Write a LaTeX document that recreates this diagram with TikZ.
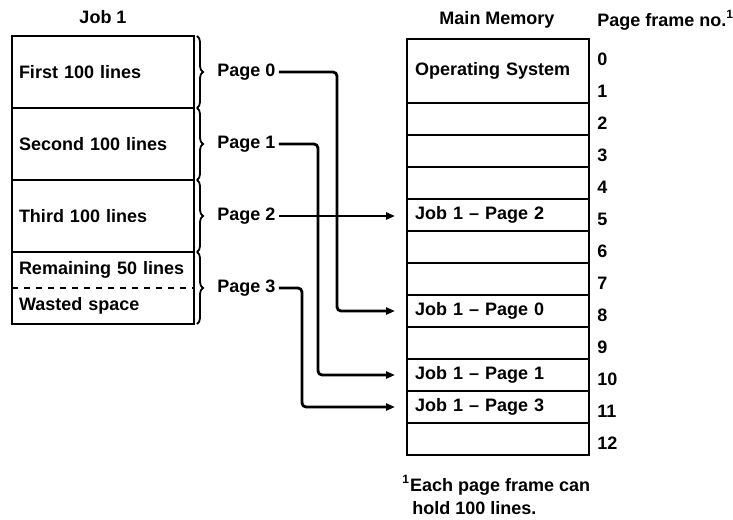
\documentclass[tikz,border=0pt]{standalone}
\usepackage{fontspec}
\setmainfont{Liberation Sans}
\usetikzlibrary{positioning,arrows.meta,decorations.pathreplacing}

\tikzset{
  jobpart/.style={draw,line width=0.9pt,outer sep=0pt,anchor=north west,text width=84pt,
    inner xsep=3.5pt,minimum height=36pt,align=left},
  frame/.style={draw,line width=0.9pt,outer sep=0pt,anchor=north west,text width=83pt,
    inner xsep=4pt,minimum height=16pt,align=left},
  brace/.style={decorate,decoration={brace,amplitude=3pt,raise=1.5pt},line width=0.9pt},
  pagelbl/.style={inner sep=1.5pt},
  num/.style={anchor=west,inner sep=0pt},
  link/.style={line width=1.4pt,-{Triangle[length=4.5pt,width=3.5pt]},
    shorten >=6pt,rounded corners=2pt}
}

\begin{document}
\begin{tikzpicture}[x=0.5pt,y=-0.5pt,font=\fontsize{9}{11}\selectfont\bfseries]
\useasboundingbox (0,0) rectangle (733,519);

% job 1
\node (jobtitle) at (103,17) {Job 1};
\node[jobpart] (j0) at (12,36) {First 100 lines};
\node[jobpart,below=0pt of j0] (j1) {Second 100 lines};
\node[jobpart,below=0pt of j1] (j2) {Third 100 lines};
\node[jobpart,draw=none,minimum height=18pt,below=0pt of j2] (j3a) {Remaining 50 lines};
\node[jobpart,draw=none,minimum height=18pt,below=0pt of j3a] (j3b) {Wasted space};
\draw[line width=0.9pt] (j3a.north west) rectangle (j3b.south east);
\draw[dashed,line width=0.6pt] (j3a.south west) -- (j3a.south east);

\foreach \n in {j0,j1,j2}
  \draw[brace] (\n.north east) -- (\n.south east);
\draw[brace] (j3a.north east) -- (j3b.south east);

\node[pagelbl,right=10pt of j0] (p0) {Page 0};
\node[pagelbl,right=10pt of j1] (p1) {Page 1};
\node[pagelbl,right=10pt of j2] (p2) {Page 2};
\node[pagelbl,right=10pt of j3a.south east] (p3) {Page 3};

% main memory
\node (memtitle) at (497,20) {Main Memory};
\node[anchor=west,inner sep=0pt] (frametitle) at (597,20) {Page frame no.\textsuperscript{1}};
\node[frame,minimum height=32pt] (os) at (407,39) {Operating System};
\foreach \k/\txt in {2/,3/,4/,5/Job 1 – Page 2,6/,7/,8/Job 1 – Page 0,9/,
    10/Job 1 – Page 1,11/Job 1 – Page 3,12/}
  \node[frame] (f\k) at (407,{39+32*\k}) {\txt};
\foreach \k in {0,...,12}
  \node[num] (n\k) at (597,{59+32*\k}) {\k};

\node[anchor=west,inner sep=0pt] (note1) at (402,485) {\textsuperscript{1}Each page frame can};
\node[anchor=west,inner sep=0pt] (note2) at (412,508) {hold 100 lines.};

% mapping
\coordinate (b0) at (337,0);
\coordinate (b1) at (318,0);
\coordinate (b3) at (302,0);
\draw[link] (p0.east) -| (b0 |- f8.west) -- (f8.west);
\draw[link] (p1.east) -| (b1 |- f10.west) -- (f10.west);
\draw[link] (p2.east) -- (p2.east -| f5.west);
\draw[link] (p3.east) -| (b3 |- f11.west) -- (f11.west);
\end{tikzpicture}
\end{document}
